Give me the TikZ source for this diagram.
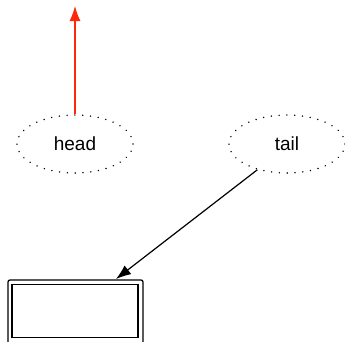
\documentclass[tikz,border=0pt]{standalone}
\usepackage{fontspec}
\setmainfont{Liberation Sans}
\usetikzlibrary{arrows.meta,shapes.geometric}
\definecolor{ptrred}{RGB}{255,40,10}
\tikzset{
  refnode/.style={ellipse, draw, line width=1.6pt, dash pattern=on 0.01pt off 7.8pt, line cap=round, minimum width=116pt, minimum height=58pt, inner sep=0pt, font=\fontsize{19}{22}\selectfont},
  ptr/.style={-{Latex[length=15pt,width=11pt]}, line width=1.2pt},
  outerbox/.style={draw, line width=1.3pt, rounded corners=2pt},
  innerbox/.style={draw, line width=1.3pt}
}
\begin{document}
\begin{tikzpicture}[x=1pt,y=-1pt]
\useasboundingbox (0,0) rectangle (345,341);
\node[refnode] (head) at (75,144) {head};
\node[refnode] (tail) at (287,144) {tail};
\coordinate (up) at (75,6);
\draw[outerbox] (8,345) |- (143,280) -- (143,345);
\draw[innerbox] (12,337.5) rectangle (138,284.5);
\coordinate (boxtop) at (116,279);
\draw[ptr, draw=ptrred, fill=ptrred] (head.north) -- (up);
\draw[ptr] (tail.221) -- (boxtop);
\end{tikzpicture}
\end{document}
